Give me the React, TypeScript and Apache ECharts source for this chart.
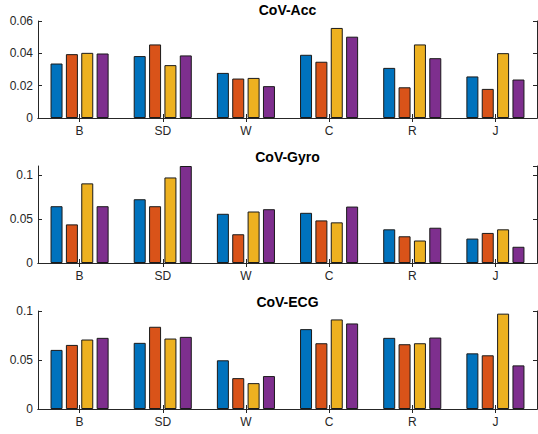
import React, { useEffect, useRef } from "react";
import * as echarts from "echarts";

const categories = ["B", "SD", "W", "C", "R", "J"];
const seriesNames = ["Series 1", "Series 2", "Series 3", "Series 4"];
const colors = ["#0072BD", "#D95319", "#EDB120", "#7E2F8E"];

const panelTitles = ["CoV-Acc", "CoV-Gyro", "CoV-ECG"];

const accS1 = [0.0337, 0.0383, 0.0279, 0.0391, 0.031, 0.0257];
const accS2 = [0.0395, 0.0455, 0.0244, 0.0348, 0.019, 0.018];
const accS3 = [0.0403, 0.0327, 0.0248, 0.0557, 0.0455, 0.0401];
const accS4 = [0.0399, 0.0387, 0.0197, 0.0503, 0.037, 0.0238];

const gyroS1 = [0.0644, 0.0723, 0.0558, 0.0569, 0.0382, 0.0277];
const gyroS2 = [0.0438, 0.0644, 0.0326, 0.0483, 0.0303, 0.0341];
const gyroS3 = [0.0903, 0.097, 0.0584, 0.0461, 0.0255, 0.0382];
const gyroS4 = [0.0644, 0.11, 0.061, 0.064, 0.04, 0.0184];

const ecgS1 = [0.0603, 0.0675, 0.0497, 0.0815, 0.0726, 0.0568];
const ecgS2 = [0.0654, 0.0839, 0.0315, 0.0671, 0.0661, 0.0548];
const ecgS3 = [0.0709, 0.0719, 0.0264, 0.0914, 0.0671, 0.0973];
const ecgS4 = [0.0726, 0.0736, 0.0336, 0.0873, 0.0729, 0.0445];

const yMax = [0.06, 0.11, 0.1];
const yInterval = [0.02, 0.05, 0.05];

const panelData = [
  [accS1, accS2, accS3, accS4],
  [gyroS1, gyroS2, gyroS3, gyroS4],
  [ecgS1, ecgS2, ecgS3, ecgS4],
];

const gridTops = [21, 166, 311];
const gridHeights = [97, 97, 98];
const titleTops = [3, 150, 295];

const FONT = "'Liberation Sans', Arial, Helvetica, sans-serif";
const AXIS = "#262626";

export default function App() {
  const ref = useRef<HTMLDivElement>(null);
  useEffect(() => {
    if (!ref.current) return;
    const chart = echarts.init(ref.current, undefined, { renderer: "svg" });
    const grids: any[] = [];
    const xAxes: any[] = [];
    const yAxes: any[] = [];
    const series: any[] = [];
    const titles: any[] = [];
    panelData.forEach((pd, p) => {
      grids.push({ left: 38, right: 1, top: gridTops[p], height: gridHeights[p], containLabel: false });
      titles.push({
        text: panelTitles[p],
        left: 287.5,
        textAlign: "center",
        top: titleTops[p],
        padding: 0,
        textStyle: { fontFamily: FONT, fontSize: 14, fontWeight: "bold", color: "#000" },
      });
      const common = {
        type: "category",
        data: categories,
        gridIndex: p,
        boundaryGap: true,
        axisLine: { show: true, lineStyle: { color: AXIS, width: 1 } },
        axisTick: { show: true, inside: true, alignWithLabel: true, length: 4, lineStyle: { color: AXIS } },
        splitLine: { show: false },
      };
      xAxes.push({
        ...common,
        position: "bottom",
        axisLabel: { show: true, margin: 7, fontFamily: FONT, fontSize: 12, color: AXIS },
      });
      xAxes.push({ ...common, position: "top", axisLabel: { show: false } });
      const ycommon = {
        type: "value",
        gridIndex: p,
        min: 0,
        max: yMax[p],
        interval: yInterval[p],
        axisLine: { show: true, lineStyle: { color: AXIS, width: 1 } },
        axisTick: { show: true, inside: true, length: 4, lineStyle: { color: AXIS } },
        splitLine: { show: false },
      };
      yAxes.push({
        ...ycommon,
        position: "left",
        axisLabel: {
          show: true,
          margin: 5,
          fontFamily: FONT,
          fontSize: 12,
          color: AXIS,
          showMaxLabel: p !== 1,
          formatter: (v: number) => (v === 0 ? "0" : String(+v.toFixed(4))),
        },
      });
      yAxes.push({ ...ycommon, position: "right", axisLabel: { show: false } });
      pd.forEach((vals, s) => {
        series.push({
          type: "bar",
          name: seriesNames[s],
          xAxisIndex: p * 2,
          yAxisIndex: p * 2,
          data: vals,
          barWidth: 12,
          barGap: "28%",
          clip: true,
          itemStyle: { color: colors[s], borderColor: "#1a1a1a", borderWidth: 1 },
        });
      });
    });
    chart.setOption({
      animation: false,
      backgroundColor: "#ffffff",
      title: titles,
      grid: grids,
      xAxis: xAxes,
      yAxis: yAxes,
      series,
    });
    return () => chart.dispose();
  }, []);
  return (
    <div
      ref={ref}
      style={{ position: "fixed", left: 0, top: 0, width: 538, height: 434, background: "#fff" }}
    />
  );
}
